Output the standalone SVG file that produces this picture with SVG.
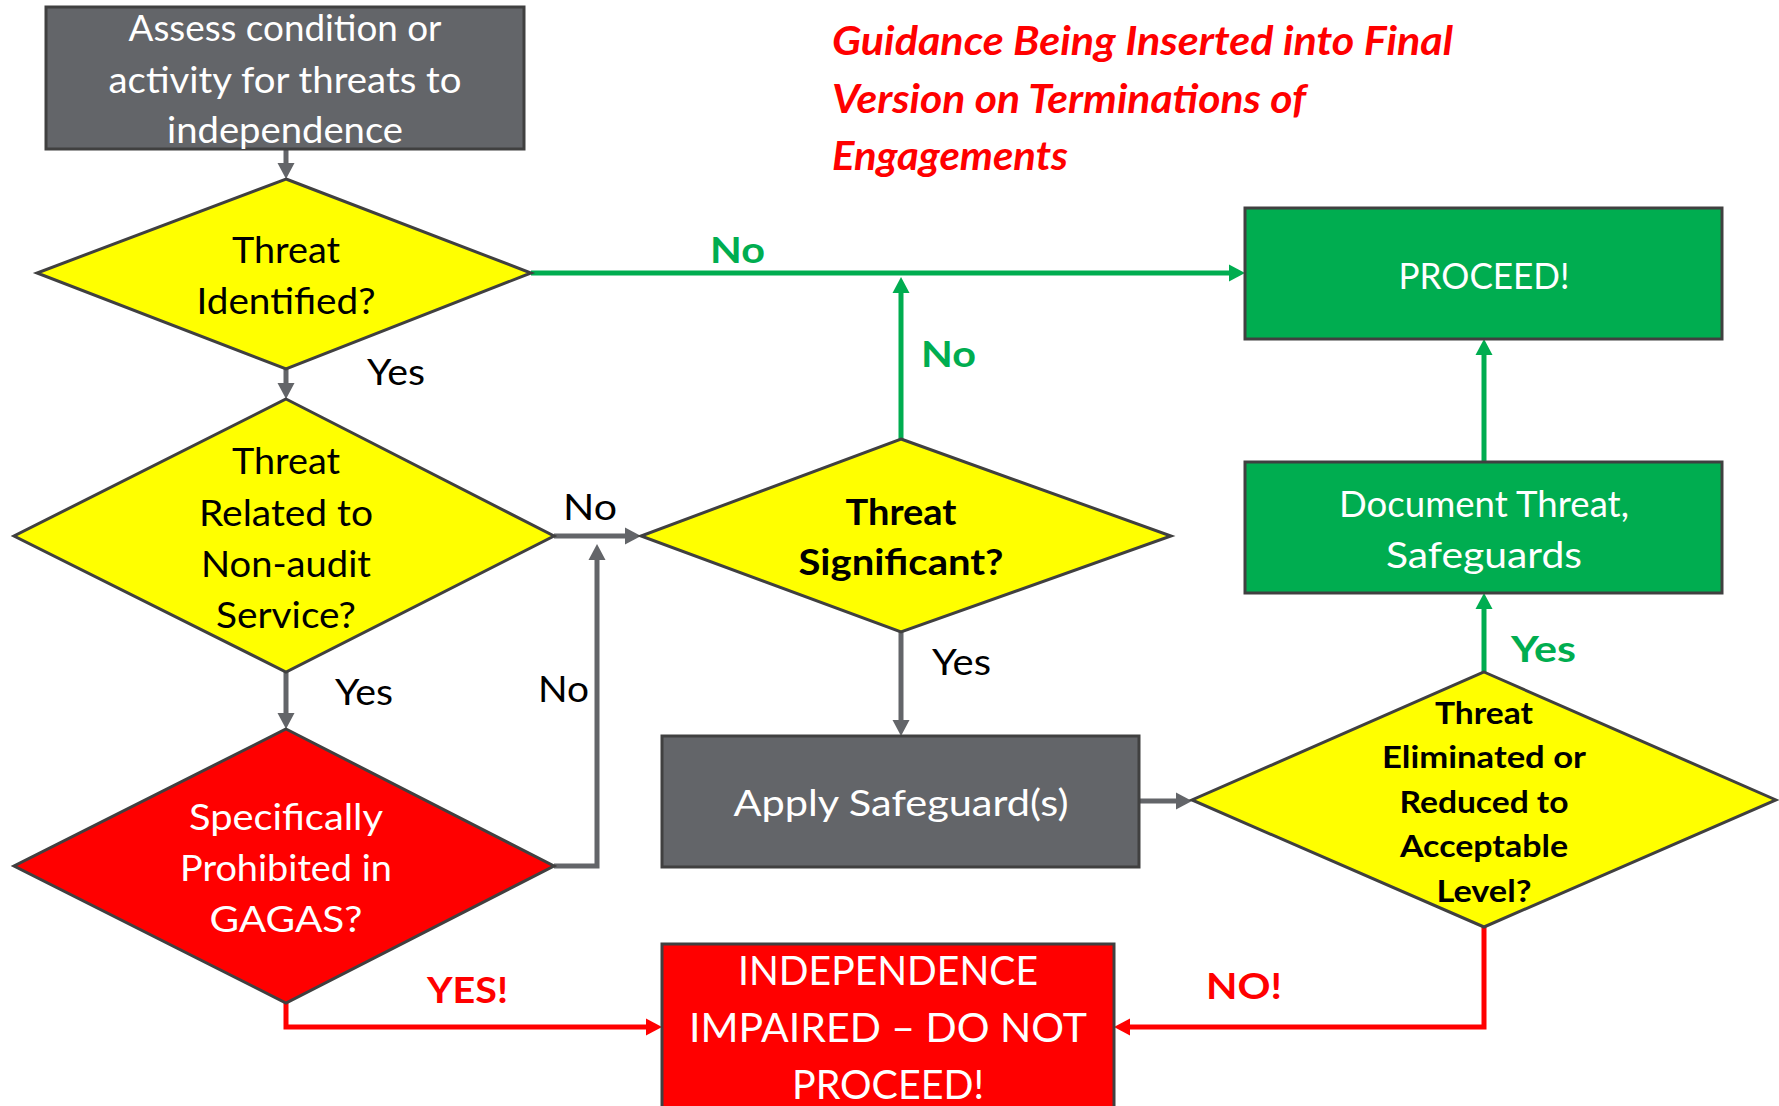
<svg xmlns="http://www.w3.org/2000/svg" width="1779" height="1106" viewBox="0 0 1779 1106">
<defs>
<style>
.t{font-family:"Lato","Liberation Sans",sans-serif;font-size:36px;text-anchor:middle;}
.w{fill:#ffffff;}
.k{fill:#000000;}
.b{font-weight:bold;}
.shape{stroke:#404040;stroke-width:3;}
.gray{fill:#636569;}
.yel{fill:#ffff00;}
.grn{fill:#00ad50;}
.red{fill:#ff0000;}
.cg{fill:none;stroke:#636569;stroke-width:5;}
.cgr{fill:none;stroke:#00ad50;stroke-width:5;}
.cr{fill:none;stroke:#ff0000;stroke-width:5;}
.lbl{font-family:"Lato","Liberation Sans",sans-serif;font-size:36px;}
.title{font-family:"Lato","Liberation Sans",sans-serif;font-size:41px;font-weight:bold;font-style:italic;fill:#ff0000;}
</style>
<marker id="ag" markerUnits="userSpaceOnUse" markerWidth="18" markerHeight="18" viewBox="0 0 18 18" refX="0" refY="9" orient="auto"><path d="M0,0.5 L16,9 L0,17.5 z" fill="#636569"/></marker>
<marker id="agr" markerUnits="userSpaceOnUse" markerWidth="18" markerHeight="18" viewBox="0 0 18 18" refX="0" refY="9" orient="auto"><path d="M0,0.5 L16,9 L0,17.5 z" fill="#00ad50"/></marker>
<marker id="ar" markerUnits="userSpaceOnUse" markerWidth="18" markerHeight="18" viewBox="0 0 18 18" refX="0" refY="9" orient="auto"><path d="M0,0.5 L16,9 L0,17.5 z" fill="#ff0000"/></marker>
</defs>
<rect width="1779" height="1106" fill="#ffffff"/>

<g id="title">
<text class="title" x="832" y="55" textLength="621" lengthAdjust="spacingAndGlyphs">Guidance Being Inserted into Final</text>
<text class="title" x="832" y="113" textLength="474" lengthAdjust="spacingAndGlyphs">Version on Terminations of</text>
<text class="title" x="832" y="170" textLength="236" lengthAdjust="spacingAndGlyphs">Engagements</text>
</g>

<g id="connectors">
<path class="cg" d="M286,149 V163" marker-end="url(#ag)"/>
<path class="cg" d="M286,369 V383" marker-end="url(#ag)"/>
<path class="cg" d="M286,672 V713" marker-end="url(#ag)"/>
<path class="cg" d="M554,536 H625" marker-end="url(#ag)"/>
<path class="cg" d="M554,866 H597 V560" marker-end="url(#ag)"/>
<path class="cg" d="M901,632 V720" marker-end="url(#ag)"/>
<path class="cg" d="M1139,801 H1176" marker-end="url(#ag)"/>
<path class="cgr" d="M1484,672 V609" marker-end="url(#agr)"/>
<path class="cgr" d="M1484,462 V355" marker-end="url(#agr)"/>
<path class="cgr" d="M531,273 H1229" marker-end="url(#agr)"/>
<path class="cgr" d="M901,439 V293" marker-end="url(#agr)"/>
<path class="cr" d="M286,1003 V1027 H646" marker-end="url(#ar)"/>
<path class="cr" d="M1484,927 V1027 H1130" marker-end="url(#ar)"/>
<text class="lbl k" x="367" y="385" textLength="58" lengthAdjust="spacingAndGlyphs">Yes</text>
<text class="lbl k" x="335" y="705" textLength="58" lengthAdjust="spacingAndGlyphs">Yes</text>
<text class="lbl k" x="563" y="520" textLength="54" lengthAdjust="spacingAndGlyphs">No</text>
<text class="lbl k" x="538" y="702" textLength="51" lengthAdjust="spacingAndGlyphs">No</text>
<text class="lbl k" x="932" y="675" textLength="59" lengthAdjust="spacingAndGlyphs">Yes</text>
<text class="lbl b" x="710" y="263" fill="#00ad50" textLength="55" lengthAdjust="spacingAndGlyphs">No</text>
<text class="lbl b" x="921" y="367" fill="#00ad50" textLength="55" lengthAdjust="spacingAndGlyphs">No</text>
<text class="lbl b" x="1511" y="662" fill="#00ad50" textLength="65" lengthAdjust="spacingAndGlyphs">Yes</text>
<text class="lbl b" x="427" y="1003" fill="#ff0000" textLength="81" lengthAdjust="spacingAndGlyphs">YES!</text>
<text class="lbl b" x="1206" y="999" fill="#ff0000" textLength="76" lengthAdjust="spacingAndGlyphs">NO!</text>
</g>

<g id="assess">
<rect class="shape gray" x="46" y="7" width="478" height="142"/>
<text class="t w" x="285" y="41" textLength="313" lengthAdjust="spacingAndGlyphs">Assess condition or</text>
<text class="t w" x="285" y="93" textLength="353" lengthAdjust="spacingAndGlyphs">activity for threats to</text>
<text class="t w" x="285" y="143" textLength="236" lengthAdjust="spacingAndGlyphs">independence</text>
</g>

<g id="threat-identified">
<polygon class="shape yel" points="286,179 531,273 286,369 37,273"/>
<text class="t k" x="286" y="263" textLength="108" lengthAdjust="spacingAndGlyphs">Threat</text>
<text class="t k" x="286" y="314" textLength="179" lengthAdjust="spacingAndGlyphs">Identified?</text>
</g>

<g id="non-audit">
<polygon class="shape yel" points="286,399 554,536 286,672 14,536"/>
<text class="t k" x="286" y="474" textLength="108" lengthAdjust="spacingAndGlyphs">Threat</text>
<text class="t k" x="286" y="526" textLength="174" lengthAdjust="spacingAndGlyphs">Related to</text>
<text class="t k" x="286" y="577" textLength="170" lengthAdjust="spacingAndGlyphs">Non-audit</text>
<text class="t k" x="286" y="628" textLength="140" lengthAdjust="spacingAndGlyphs">Service?</text>
</g>

<g id="prohibited">
<polygon class="shape red" points="286,729 554,866 286,1003 14,866"/>
<text class="t w" x="286" y="830" textLength="194" lengthAdjust="spacingAndGlyphs">Specifically</text>
<text class="t w" x="286" y="881" textLength="212" lengthAdjust="spacingAndGlyphs">Prohibited in</text>
<text class="t w" x="286" y="932" textLength="153" lengthAdjust="spacingAndGlyphs">GAGAS?</text>
</g>

<g id="significant">
<polygon class="shape yel" points="901,439 1171,536 901,632 641,536"/>
<text class="t k b" x="901" y="525" textLength="111" lengthAdjust="spacingAndGlyphs">Threat</text>
<text class="t k b" x="901" y="575" textLength="205" lengthAdjust="spacingAndGlyphs">Significant?</text>
</g>

<g id="apply">
<rect class="shape gray" x="662" y="736" width="477" height="131"/>
<text class="t w" x="901" y="816" textLength="335" lengthAdjust="spacingAndGlyphs">Apply Safeguard(s)</text>
</g>

<g id="eliminated">
<polygon class="shape yel" points="1484,672 1776,800 1484,927 1192,800"/>
<text class="t k b" x="1484" y="724" style="font-size:31px" textLength="98" lengthAdjust="spacingAndGlyphs">Threat</text>
<text class="t k b" x="1484" y="768" style="font-size:31px" textLength="204" lengthAdjust="spacingAndGlyphs">Eliminated or</text>
<text class="t k b" x="1484" y="813" style="font-size:31px" textLength="169" lengthAdjust="spacingAndGlyphs">Reduced to</text>
<text class="t k b" x="1484" y="857" style="font-size:31px" textLength="168" lengthAdjust="spacingAndGlyphs">Acceptable</text>
<text class="t k b" x="1484" y="902" style="font-size:31px" textLength="95" lengthAdjust="spacingAndGlyphs">Level?</text>
</g>

<g id="proceed">
<rect class="shape grn" x="1245" y="208" width="477" height="131"/>
<text class="t w" x="1484" y="289" textLength="171" lengthAdjust="spacingAndGlyphs">PROCEED!</text>
</g>

<g id="document">
<rect class="shape grn" x="1245" y="462" width="477" height="131"/>
<text class="t w" x="1484" y="517" textLength="290" lengthAdjust="spacingAndGlyphs">Document Threat,</text>
<text class="t w" x="1484" y="568" textLength="196" lengthAdjust="spacingAndGlyphs">Safeguards</text>
</g>

<g id="impaired">
<rect class="shape red" x="662" y="944" width="452" height="190"/>
<text class="t w" x="888" y="985" style="font-size:40px" textLength="300" lengthAdjust="spacingAndGlyphs">INDEPENDENCE</text>
<text class="t w" x="888" y="1042" style="font-size:40px" textLength="398" lengthAdjust="spacingAndGlyphs">IMPAIRED – DO NOT</text>
<text class="t w" x="888" y="1099" style="font-size:40px" textLength="192" lengthAdjust="spacingAndGlyphs">PROCEED!</text>
</g>
</svg>
